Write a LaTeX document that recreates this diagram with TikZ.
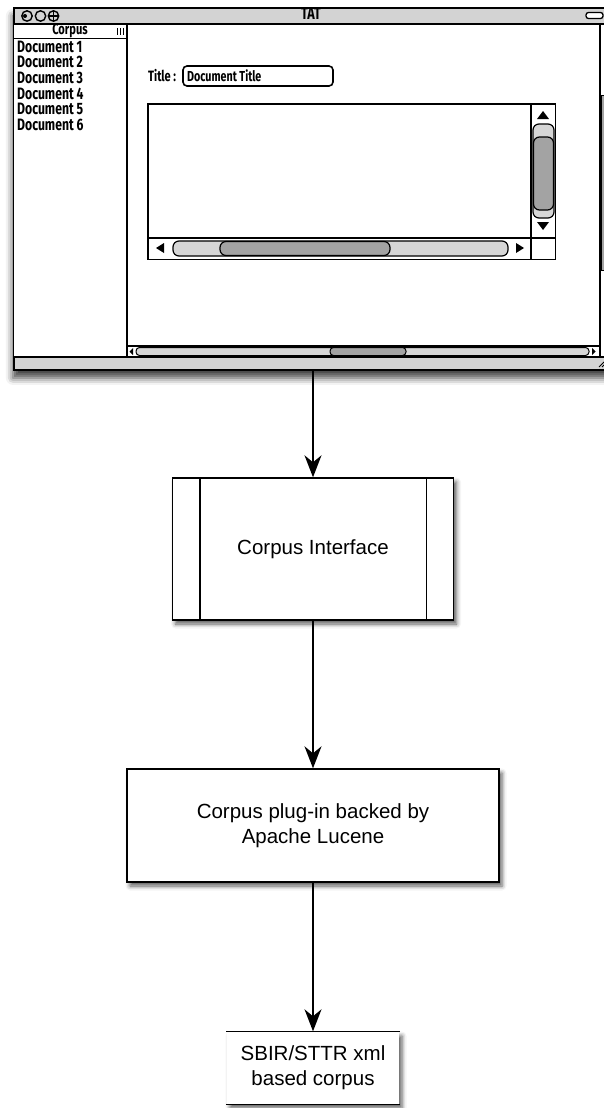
\documentclass[tikz,border=0pt]{standalone}
\usepackage{fontspec}
\setmainfont{Liberation Sans}
\newfontfamily\sketchfont[FakeStretch=0.74]{Fira Sans}
\usetikzlibrary{arrows.meta,shadows.blur}
\definecolor{barGray}{HTML}{D3D3D3}
\definecolor{trackGray}{HTML}{D6D6D6}
\definecolor{thumbGray}{HTML}{A3A3A3}
\begin{document}
\begin{tikzpicture}[x=1pt,y=-1pt,
  shadowed/.style={blur shadow={shadow xshift=3pt,shadow yshift=-4pt,shadow blur radius=4.5pt,shadow opacity=65}},
  winshadow/.style={blur shadow={shadow xshift=-1pt,shadow yshift=-8pt,shadow blur radius=7pt,shadow opacity=75}},
  flowbox/.style={draw,line width=1.4pt,fill=white,shadowed,inner sep=0pt,align=center,
    font=\fontsize{20.5}{25}\selectfont},
  link/.style={line width=1.5pt,-{Stealth[length=22pt,width=17pt,inset=7pt]}},
  ui/.style={line width=1.5pt},
  uitext/.style={inner sep=0pt,font=\sketchfont\bfseries\fontsize{16.5}{16.5}\selectfont},
  track/.style={draw,line width=1.2pt,fill=trackGray,rounded corners=6pt},
  thumb/.style={draw,line width=1.2pt,fill=thumbGray,rounded corners=6pt},
  tip/.style={fill=black}]
\useasboundingbox (0,0) rectangle (604,1108);
\begin{scope}
\clip (0,0) rectangle (604,1108);
% application window
\node[draw,line width=1.8pt,fill=barGray,minimum width=600pt,minimum height=362pt,
  anchor=north west,inner sep=0pt,winshadow] (tat) at (13,7) {};
\fill[white] (14,24) rectangle (612,357);
\draw[ui] (13,24) -- (613,24);
\draw[ui] (13,357) -- (613,357);
% title bar
\draw[line width=1.4pt] (27,16) circle (5.2pt) (40.5,16) circle (5.2pt) (53.5,16) circle (5.2pt);
\fill (25,16) circle (2pt);
\draw[line width=1.1pt] (53.5,11) -- (53.5,21) (48.5,16) -- (58.5,16);
\draw[line width=1.3pt,fill=white,rounded corners=2.5pt] (586,12.5) rectangle (603,18.5);
\node[uitext,font=\sketchfont\bfseries\fontsize{17}{17}\selectfont] (ttl) at (311,13.5) {TAT};
% corpus panel
\draw[ui] (127,24) -- (127,357);
\draw[ui] (13,38.5) -- (127,38.5);
\node[uitext,font=\sketchfont\bfseries\fontsize{15}{15}\selectfont] (hdr) at (70,31) {Corpus};
\draw[line width=1pt] (117,28) -- (117,35) (120,28) -- (120,35) (123,28) -- (123,35);
\foreach \i/\yy in {1/46.5,2/62,3/78,4/93.5,5/109,6/124.5}
  \node[uitext,anchor=west] (doc\i) at (17,\yy) {Document \i};
% editor panel
\draw[ui] (600,24) -- (600,357);
\draw[line width=1pt,fill=thumbGray] (601.5,95) rectangle (606,270);
\node[uitext,anchor=west,font=\sketchfont\bfseries\fontsize{15}{15}\selectfont] (tlab) at (148,76) {Title :};
\draw[line width=1.6pt,rounded corners=4pt] (183,66) rectangle (333,86);
\node[uitext,anchor=west,font=\sketchfont\bfseries\fontsize{14.5}{15}\selectfont] (tval) at (187,76) {Document Title};
% text area with scroll bars
\draw[line width=1.8pt] (148,104) rectangle (555.5,259.5);
\draw[ui] (531,104) -- (531,259.5);
\draw[ui] (148,238) -- (555.5,238);
\draw[track] (533,124) rectangle (554,218);
\draw[thumb] (533.5,137) rectangle (553.5,210);
\fill[tip] (537,119) -- (549,119) -- (543,111) -- cycle;
\fill[tip] (537,222) -- (549,222) -- (543,230) -- cycle;
\draw[track] (173,241) rectangle (508,256);
\draw[thumb] (220,241.5) rectangle (390,255.5);
\fill[tip] (164,243) -- (164,253) -- (156,248) -- cycle;
\fill[tip] (516,243) -- (516,253) -- (524,248) -- cycle;
% window horizontal scroll bar
\draw[ui] (127,346) -- (600,346);
\draw[line width=1pt,fill=trackGray,rounded corners=3.5pt] (136,347.5) rectangle (589,355.5);
\draw[line width=1pt,fill=thumbGray,rounded corners=3.5pt] (330,347.5) rectangle (406,355.5);
\fill[tip] (133,348) -- (133,355) -- (129.5,351.5) -- cycle;
\fill[tip] (592,348) -- (592,355) -- (595.5,351.5) -- cycle;
\draw[line width=0.8pt] (599,367) -- (604,362) (602,367) -- (604,365);
\end{scope}
% processing chain
\node[flowbox,minimum width=281pt,minimum height=142pt] (ci) at (313,549) {Corpus Interface};
\draw[line width=1.4pt] ([xshift=28pt]ci.north west) -- ([xshift=28pt]ci.south west)
  ([xshift=-28pt]ci.north east) -- ([xshift=-28pt]ci.south east);
\node[flowbox,minimum width=372pt,minimum height=113pt] (plug) at (313,825.5)
  {Corpus plug-in backed by\\Apache Lucene};
\node[flowbox,draw=none,minimum width=172pt,minimum height=72pt] (store) at (313,1068)
  {SBIR/STTR xml\\based corpus};
\draw[line width=1.4pt] (store.north west) -- (store.north east)
  (store.south west) -- (store.south east);
\draw[link] (tat.south -| ci.north) -- (ci.north);
\draw[link] (ci.south) -- (plug.north);
\draw[link] (plug.south) -- (store.north);
\end{tikzpicture}
\end{document}
